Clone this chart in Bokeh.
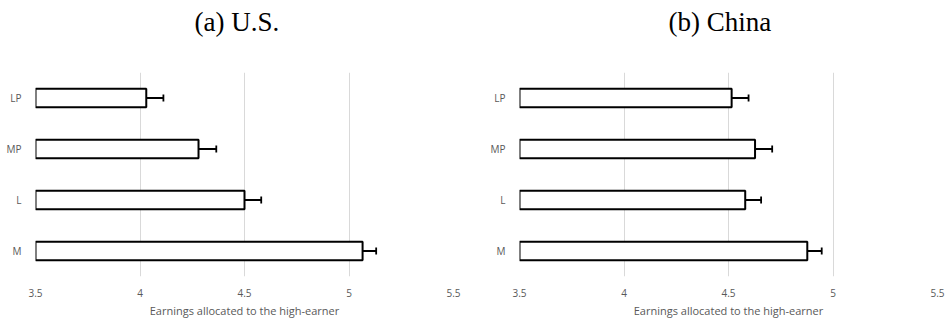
from bokeh.plotting import figure
from bokeh.layouts import row
from bokeh.models import ColumnDataSource, Whisker, TeeHead, FixedTicker, Title
from bokeh.embed import file_html
from bokeh.resources import INLINE

# Treatment categories, top to bottom
categories = ["LP", "MP", "L", "M"]

# Mean earnings allocated to the high-earner and standard-error half widths
us_means = [4.03, 4.28, 4.50, 5.065]
us_err = [0.082, 0.085, 0.080, 0.065]
cn_means = [4.515, 4.627, 4.580, 4.877]
cn_err = [0.081, 0.082, 0.076, 0.069]

x_ticks = [3.5, 4, 4.5, 5, 5.5]
x_tick_labels = ["3.5", "4", "4.5", "5", "5.5"]
panel_titles = ["(a) U.S.", "(b) China"]
x_title = "Earnings allocated to the high-earner"

GRAY = "#595959"
FONT = "Open Sans"
FRAME_W = 418


def make_panel(title, title_offset, means, errs, border_left, border_right):
    src = ColumnDataSource(dict(
        cat=categories,
        mean=means,
        lo=[m - e for m, e in zip(means, errs)],
        hi=[m + e for m, e in zip(means, errs)],
    ))
    p = figure(
        width=border_left + FRAME_W + border_right, height=320,
        y_range=list(reversed(categories)), x_range=(3.5, 5.5),
        output_backend="svg", toolbar_location=None,
        min_border_left=border_left, min_border_right=border_right,
        min_border_top=72, min_border_bottom=40,
        outline_line_color=None,
    )
    p.y_range.range_padding = 0

    # blank band between the heading and the plotting frame
    p.add_layout(Title(text=" ", text_font_size="2px", standoff=32), "above")
    p.add_layout(Title(text=title, align="left", text_font="Liberation Serif",
                       text_font_size="27px", text_font_style="normal",
                       text_color="black", offset=title_offset, standoff=0), "above")

    p.hbar(y="cat", left=3.5, right="mean", height=0.36, source=src,
           fill_color="white", line_color="black", line_width=2)
    p.add_layout(Whisker(
        source=src, base="cat", lower="lo", upper="hi", dimension="width",
        line_color="black", line_width=1.8,
        lower_head=TeeHead(size=7, line_color="black", line_width=1.8),
        upper_head=TeeHead(size=7, line_color="black", line_width=1.8),
    ))

    p.xaxis.ticker = FixedTicker(ticks=x_ticks)
    p.xaxis.major_label_overrides = {t_: l for t_, l in zip(x_ticks, x_tick_labels)}
    p.xaxis.axis_label = x_title
    p.xaxis.axis_label_text_font = FONT
    p.xaxis.axis_label_text_font_size = "11px"
    p.xaxis.axis_label_text_font_style = "normal"
    p.xaxis.axis_label_text_color = GRAY
    p.xaxis.axis_label_standoff = 3
    p.xaxis.major_label_standoff = 6

    for ax in (p.xaxis, p.yaxis):
        ax.axis_line_color = None
        ax.major_tick_line_color = None
        ax.minor_tick_line_color = None
        ax.major_label_text_font = FONT
        ax.major_label_text_font_size = "10px"
        ax.major_label_text_color = GRAY
    p.yaxis.major_label_standoff = 8

    p.xgrid.grid_line_color = "#d9d9d9"
    p.xgrid.grid_line_width = 1
    p.ygrid.grid_line_color = None
    return p


left = make_panel(panel_titles[0], 159, us_means, us_err, 35, 20)
right = make_panel(panel_titles[1], 149, cn_means, cn_err, 46, 10)

layout = row(left, right, spacing=0)
open("out.html", "w").write(file_html(layout, INLINE))
